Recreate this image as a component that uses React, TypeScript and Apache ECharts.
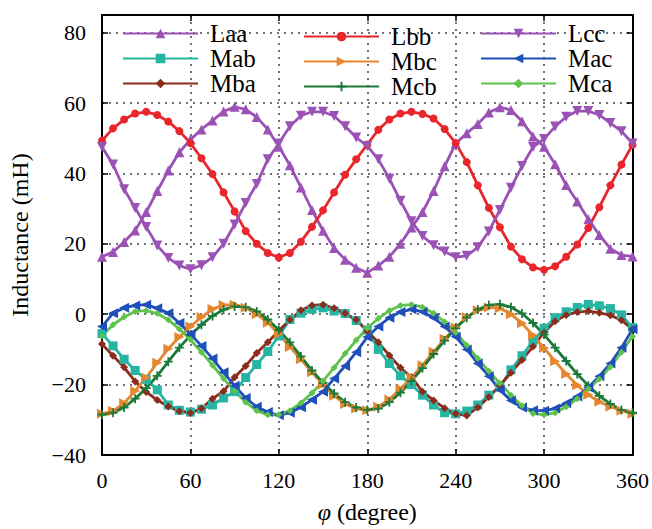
import React, { useEffect, useRef } from 'react';
import * as echarts from 'echarts';

const angles = [0, 7.5, 15, 22.5, 30, 37.5, 45, 52.5, 60, 67.5, 75, 82.5, 90, 97.5, 105, 112.5, 120, 127.5, 135, 142.5, 150, 157.5, 165, 172.5, 180, 187.5, 195, 202.5, 210, 217.5, 225, 232.5, 240, 247.5, 255, 262.5, 270, 277.5, 285, 292.5, 300, 307.5, 315, 322.5, 330, 337.5, 345, 352.5, 360];

const Laa = [16.3, 17.7, 20.5, 23.8, 29, 35, 40.8, 46, 49.6, 52.5, 55, 57.6, 58.9, 58.2, 56, 52.5, 47.6, 42.3, 36, 29.6, 23.7, 18.8, 15.5, 13.2, 11.8, 13.8, 16.3, 20, 24.6, 29, 35, 42, 48.5, 51.4, 54, 57.3, 58.8, 58, 54.8, 50.5, 47.6, 42.6, 36.7, 32, 27, 22.5, 18.6, 16.8, 16.4];
const Lbb = [49.3, 52.8, 55.3, 57, 57.5, 56.6, 54.7, 52, 48.6, 44.3, 39.8, 34.6, 29.2, 23.6, 20, 17.4, 16.1, 17.4, 20.6, 24.8, 29.5, 34.6, 39.6, 44, 48.2, 52.4, 55.3, 57, 57.5, 56.9, 55.6, 52.6, 48.6, 43.2, 36.6, 30.2, 24.7, 19.2, 15.6, 13.3, 12.6, 13.6, 16.3, 19.8, 24.5, 30.4, 36.6, 42.5, 48.1];
const Lcc = [47.5, 42.5, 35.5, 30.2, 24.8, 19.5, 16, 13.8, 12.8, 13.9, 16.2, 20, 25.5, 31.6, 37, 44, 48.5, 53.4, 56.4, 57.5, 57.5, 56.3, 53.4, 50.2, 47.8, 44, 38.5, 32.2, 26.4, 22.2, 19.6, 17.8, 16.2, 16.6, 19, 23.5, 29.6, 35.9, 42.1, 47.5, 49.8, 53.3, 56.1, 57.7, 57.7, 56.6, 54.3, 52, 48.5];
const Mab = [-5.5, -9, -12.8, -16, -18.5, -21.5, -25.8, -27.3, -27.8, -27, -25.8, -23.8, -22, -18, -14.3, -10.6, -6.2, -1.5, 0.3, 1.4, 1.8, 0.9, 0.2, -1.8, -4.5, -10, -14, -17.5, -20, -23, -25.8, -28, -28.3, -27.5, -25.8, -23, -20.7, -15.8, -11.8, -7.6, -4, -1, 0.7, 1.9, 2.8, 2.4, 1.6, -0.2, -3.8];
const Mbc = [-28.3, -27.5, -25.3, -21.8, -18, -13.8, -9.8, -6.5, -3.5, -0.8, 1.5, 2.6, 2.7, 1.8, 0, -2.4, -5.6, -9.3, -12.8, -16.5, -20, -23.2, -25.5, -26.8, -27.3, -26.3, -24.2, -21.2, -18, -14.5, -10.7, -7, -3.8, -0.8, 1.1, 1.9, 1.7, 0, -2.6, -6, -9.6, -13.4, -17, -20.2, -22.9, -24.9, -26.3, -27.4, -28.3];
const Mac = [-3.5, 0.3, 1.8, 2.5, 2.7, 1.7, 0.3, -2.5, -5.6, -9, -12.6, -16.5, -20.3, -23.8, -26.3, -27.8, -28.7, -28, -26.4, -24.3, -22, -18.3, -14.7, -10.8, -6.5, -3.5, -1, 0.6, 1.4, 0.7, -1, -3.5, -6.4, -10, -14, -17.6, -21.5, -24.5, -26.5, -27.3, -27.4, -26.8, -25.3, -23.4, -20.8, -17.6, -14, -9.5, -4.3];
const Mba = [-8.5, -11.8, -15.1, -19.1, -22.1, -24.4, -26.2, -27.6, -28.1, -26.8, -24, -21.9, -17.9, -14.7, -11, -8, -4.7, -1.6, 1.1, 2.5, 2.7, 1.7, 0.3, -1.6, -4.8, -8, -11.7, -15.2, -17.9, -22, -24.5, -26.7, -28.3, -28.8, -26.5, -23.5, -20.3, -16.6, -13, -9.2, -5.2, -2, -0.2, 0.6, 0.9, 0.4, -0.3, -1.7, -4.3];
const Mcb = [-28.5, -28, -26.5, -24, -21, -17.5, -13.5, -9.5, -6, -3, -0.5, 1.3, 2.2, 2, 0.8, -1.5, -4.5, -8, -12, -16, -19.5, -22.5, -25, -26.5, -27.2, -26.8, -25, -22.3, -19, -15.3, -11.3, -7.5, -4, -1, 1.3, 2.6, 2.8, 2, 0.2, -2.5, -5.8, -9.5, -13.3, -17, -20.3, -23.2, -25.5, -27.2, -28];
const Mca = [-6.2, -3, -0.8, 0.8, 1, 0.2, -1.6, -4.2, -7.2, -10.8, -14.5, -18.3, -21.8, -25, -27.4, -28.6, -28.6, -27.4, -25.2, -22.4, -19, -15.2, -11.2, -7.4, -4, -1.2, 1, 2.5, 2.7, 2, 0.3, -2.2, -5.2, -8.8, -12.6, -16.2, -19.6, -23, -26, -28.2, -28.6, -28, -26.3, -24, -21.2, -18.4, -15, -10.8, -6.3];

const xTicks = { min: 0, max: 360, interval: 60 };
const yTicks = { min: -40, max: 85, interval: 20 };

const legendCols = [
  ['Laa', 'Mab', 'Mba'],
  ['Lbb', 'Mbc', 'Mcb'],
  ['Lcc', 'Mac', 'Mca'],
];

const FONT = 'Liberation Serif';
const PLUS = 'path://M4,0H6V4H10V6H6V10H4V6H0V4H4Z';

export default function App() {
  const ref = useRef<HTMLDivElement>(null);
  useEffect(() => {
    const chart = echarts.init(ref.current as HTMLDivElement, null, { renderer: 'svg' });
    const mk = (name: string, data: number[], color: string, symbol: string, size: number, rotate = 0) => ({
      name,
      type: 'line',
      data: angles.map((a, i) => [a, data[i]]),
      symbol,
      symbolSize: size,
      symbolRotate: rotate,
      showSymbol: true,
      lineStyle: { color, width: 2.8 },
      itemStyle: { color },
      emphasis: { disabled: true },
    });
    const legendBase = {
      orient: 'vertical',
      itemWidth: 75,
      itemHeight: 12,
      itemGap: 0,
      padding: 0,
      selectedMode: false,
      textStyle: { fontFamily: FONT, fontSize: 25, color: '#000', padding: [0, 0, 0, 7] },
    };
    const grid = { color: '#444', type: [2, 5], width: 1.5 };
    const lbl = { color: '#000', fontFamily: FONT, fontSize: 22 };
    const nm = { color: '#000', fontFamily: FONT, fontSize: 24 };
    chart.setOption({
      animation: false,
      backgroundColor: '#fff',
      textStyle: { fontFamily: FONT, color: '#000' },
      grid: { left: 101, right: 19, top: 15, bottom: 73, containLabel: false },
      legend: [
        { ...legendBase, left: 122, top: 21, data: legendCols[0] },
        { ...legendBase, left: 303, top: 24, data: legendCols[1] },
        { ...legendBase, left: 480, top: 21, data: legendCols[2] },
      ],
      xAxis: [
        {
          type: 'value', ...xTicks, position: 'bottom',
          axisLine: { show: true, onZero: false, lineStyle: { color: '#000', width: 2 } },
          axisTick: { show: true, inside: true, length: 6, lineStyle: { color: '#000', width: 1.5 } },
          axisLabel: { ...lbl, margin: 14 },
          splitLine: { show: true, lineStyle: grid },
          name: '{i|φ} (degree)', nameLocation: 'middle', nameGap: 45,
          nameTextStyle: { ...nm, rich: { i: { ...nm, fontStyle: 'italic' } } },
        },
        {
          type: 'value', ...xTicks, position: 'top',
          axisLine: { show: true, onZero: false, lineStyle: { color: '#000', width: 2 } },
          axisTick: { show: true, inside: true, length: 6, lineStyle: { color: '#000', width: 1.5 } },
          axisLabel: { show: false }, splitLine: { show: false },
        },
      ],
      yAxis: [
        {
          type: 'value', ...yTicks, position: 'left',
          axisLine: { show: true, onZero: false, lineStyle: { color: '#000', width: 2 } },
          axisTick: { show: true, inside: true, length: 6, lineStyle: { color: '#000', width: 1.5 } },
          axisLabel: {
            ...lbl, margin: 16,
            formatter: (v: number) => (v > 80 ? '' : String(v).replace('-', '\u2212')),
          },
          splitLine: { show: true, lineStyle: grid },
          name: 'Inductance (mH)', nameLocation: 'middle', nameGap: 70,
          nameTextStyle: { ...nm },
        },
        {
          type: 'value', ...yTicks, position: 'right',
          axisLine: { show: true, onZero: false, lineStyle: { color: '#000', width: 2 } },
          axisTick: { show: true, inside: true, length: 6, lineStyle: { color: '#000', width: 1.5 } },
          axisLabel: { show: false }, splitLine: { show: false },
        },
      ],
      series: [
        mk('Laa', Laa, '#9a52b5', 'triangle', 10),
        mk('Mab', Mab, '#26b5a2', 'rect', 9),
        mk('Mba', Mba, '#8c2c1c', 'diamond', 8),
        mk('Lbb', Lbb, '#e8262b', 'circle', 8),
        mk('Mbc', Mbc, '#e6862e', 'triangle', 10, -90),
        mk('Mcb', Mcb, '#1b7a3a', PLUS, 9),
        mk('Lcc', Lcc, '#9a52b5', 'triangle', 10, 180),
        mk('Mac', Mac, '#1f4fb8', 'triangle', 10, 90),
        mk('Mca', Mca, '#5fc24c', 'diamond', 7),
      ],
    });
    return () => chart.dispose();
  }, []);
  return <div ref={ref} style={{ position: 'fixed', left: 0, top: 0, width: 652, height: 529 }} />;
}
